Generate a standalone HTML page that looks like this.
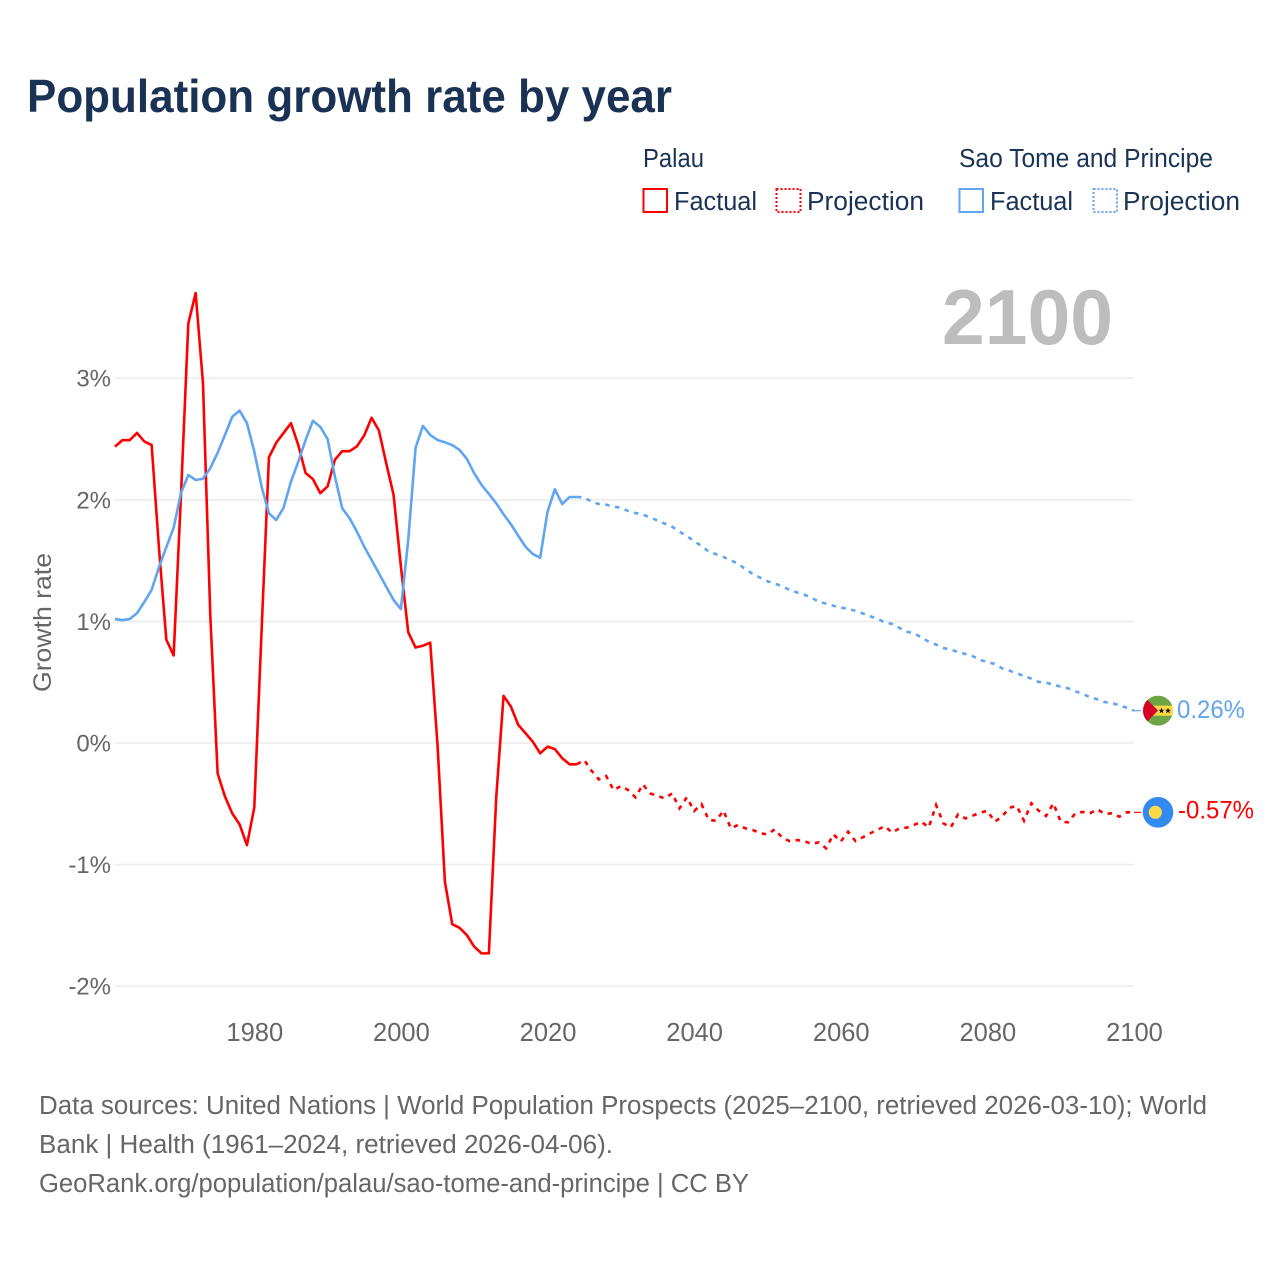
<!DOCTYPE html>
<html lang="en">
<head>
<meta charset="utf-8">
<title>Population growth rate by year</title>
<style>
  html, body { margin: 0; padding: 0; background: #fff; }
  svg { display: block; }
  text { font-family: "Liberation Sans", sans-serif; }
</style>
</head>
<body>
<svg id="chart" xmlns="http://www.w3.org/2000/svg" width="1280" height="1280" viewBox="0 0 1280 1280">
  <rect x="0" y="0" width="1280" height="1280" fill="#ffffff"/>
  <text x="27" y="112" font-size="46" font-weight="700" fill="#1a3355" textLength="645" lengthAdjust="spacingAndGlyphs">Population growth rate by year</text>

  <g>
    <text x="643" y="167" font-size="25.5" fill="#1a3355" textLength="61" lengthAdjust="spacingAndGlyphs">Palau</text>
    <text x="959" y="167" font-size="25.5" fill="#1a3355" textLength="254" lengthAdjust="spacingAndGlyphs">Sao Tome and Principe</text>
    <g>
      <rect x="643.5" y="189" width="23.5" height="23" fill="none" stroke="#ff0000" stroke-width="2"/>
      <text x="674" y="210" font-size="25.5" fill="#1a3355" textLength="83" lengthAdjust="spacingAndGlyphs">Factual</text>
    </g>
    <g>
      <rect x="776.5" y="189" width="24" height="23" fill="none" stroke="#ff0000" stroke-width="2" stroke-dasharray="2 2"/>
      <text x="807" y="210" font-size="25.5" fill="#1a3355" textLength="117" lengthAdjust="spacingAndGlyphs">Projection</text>
    </g>
    <g>
      <rect x="959.5" y="189" width="23.5" height="23" fill="none" stroke="#60a5ef" stroke-width="2"/>
      <text x="990" y="210" font-size="25.5" fill="#1a3355" textLength="83" lengthAdjust="spacingAndGlyphs">Factual</text>
    </g>
    <g>
      <rect x="1093.5" y="189" width="23.5" height="23" fill="none" stroke="#60a5ef" stroke-width="2" stroke-dasharray="2 2"/>
      <text x="1123" y="210" font-size="25.5" fill="#1a3355" textLength="117" lengthAdjust="spacingAndGlyphs">Projection</text>
    </g>
  </g>

  <text x="942" y="344" font-size="78" font-weight="700" fill="#bdbdbd" textLength="171" lengthAdjust="spacingAndGlyphs">2100</text>
  <text transform="translate(51,692) rotate(-90)" x="0" y="0" font-size="25" fill="#666666" textLength="139" lengthAdjust="spacingAndGlyphs">Growth rate</text>

  <g id="grid"></g>
  <g id="yticks"></g>
  <g id="xticks"></g>
  <g id="series"></g>

  <defs>
    <clipPath id="stp-clip"><circle cx="0" cy="0" r="15"/></clipPath>
  </defs>
  <g id="badge-sao">
    <g clip-path="url(#stp-clip)">
      <rect x="-15" y="-15" width="30" height="30" fill="#6da544"/>
      <rect x="-15" y="-5" width="30" height="10" fill="#ffda44"/>
      <polygon points="-15,-15 0,0 -15,15" fill="#d80027"/>
      <polygon points="3.5,-3 4.3,-0.9 6.5,-0.9 4.8,0.4 5.4,2.6 3.5,1.3 1.6,2.6 2.2,0.4 0.5,-0.9 2.7,-0.9" fill="#111111"/>
      <polygon points="10,-3 10.8,-0.9 13,-0.9 11.3,0.4 11.9,2.6 10,1.3 8.1,2.6 8.7,0.4 7,-0.9 9.2,-0.9" fill="#111111"/>
    </g>
  </g>
  <g id="badge-palau">
    <circle cx="0" cy="0" r="15.3" fill="#338af3"/>
    <circle cx="-2.7" cy="0" r="6.6" fill="#ffda44"/>
  </g>
  <text id="label-sao" x="1177" font-size="25" fill="#60a5ef" textLength="68" lengthAdjust="spacingAndGlyphs"></text>
  <text id="label-palau" x="1178" font-size="25" fill="#ff0000" textLength="76" lengthAdjust="spacingAndGlyphs"></text>

  <g>
    <text x="39" y="1114" font-size="25.5" fill="#666666" textLength="1168" lengthAdjust="spacingAndGlyphs">Data sources: United Nations | World Population Prospects (2025–2100, retrieved 2026-03-10); World</text>
    <text x="39" y="1153" font-size="25.5" fill="#666666" textLength="574" lengthAdjust="spacingAndGlyphs">Bank | Health (1961–2024, retrieved 2026-04-06).</text>
    <text x="39" y="1192" font-size="25.5" fill="#666666" textLength="710" lengthAdjust="spacingAndGlyphs">GeoRank.org/population/palau/sao-tome-and-principe | CC BY</text>
  </g>
</svg>

<script>
// Chart data: growth rate in percent per year
const factualStartYear = 1961;
const projectionStartYear = 2024;
const xTickYears = [1980, 2000, 2020, 2040, 2060, 2080, 2100];
const yTickValues = [3, 2, 1, 0, -1, -2];
const yTickLabels = ['3%', '2%', '1%', '0%', '-1%', '-2%'];
const endValueLabels = ['-0.57%', '0.26%'];

const palauFactual = [
  2.437,2.49,2.49,2.55,2.48,2.45,1.6,0.85,0.72,2.04,
  3.45,3.70,2.96,1.05,-0.25,-0.44,-0.58,-0.67,-0.84,-0.53,
  0.93,2.35,2.47,2.55,2.63,2.45,2.22,2.17,2.055,2.11,
  2.33,2.40,2.40,2.44,2.53,2.675,2.57,2.30,2.04,1.45,
  0.91,0.785,0.80,0.825,-0.02,-1.14,-1.49,-1.52,-1.58,-1.675,
  -1.73,-1.73,-0.45,0.387,0.30,0.15,0.08,0.01,-0.085,-0.03,
  -0.05,-0.125,-0.175,-0.175
];
const palauProjection = [
  -0.175,
  -0.14,-0.228,-0.299,-0.271,-0.387,-0.354,-0.387,-0.447,-0.34,-0.414,
  -0.436,-0.455,-0.414,-0.537,-0.447,-0.559,-0.502,-0.633,-0.639,-0.556,
  -0.702,-0.674,-0.702,-0.715,-0.743,-0.751,-0.71,-0.778,-0.806,-0.798,
  -0.806,-0.83,-0.817,-0.866,-0.751,-0.811,
  -0.729,-0.806,-0.776,-0.743,-0.715,-0.683,-0.737,-0.702,-0.696,-0.674,
  -0.647,-0.694,-0.51,-0.661,-0.694,-0.587,-0.62,-0.598,-0.573,-0.557,
  -0.647,-0.606,-0.532,-0.518,-0.639,-0.496,-0.557,-0.60,-0.496,-0.647,
  -0.652,-0.578,-0.567,-0.578,-0.545,-0.584,-0.578,-0.606,-0.57,-0.57
];
const saoFactual = [
  1.02,1.01,1.02,1.067,1.16,1.26,1.447,1.61,1.77,2.056,
  2.204,2.163,2.173,2.26,2.387,2.533,2.683,2.733,2.63,2.396,
  2.108,1.889,1.834,1.935,2.149,2.313,2.492,2.65,2.60,2.50,
  2.19,1.93,1.848,1.738,1.614,1.505,1.396,1.285,1.176,1.102,
  1.67,2.428,2.607,2.533,2.492,2.473,2.45,2.41,2.336,2.218,
  2.122,2.048,1.971,1.881,1.80,1.705,1.614,1.554,1.524,1.902,
  2.086,1.965,2.023,2.023
];
const saoProjection = [
  2.023,
  2.02,1.985,1.965,1.96,1.943,1.935,1.908,1.891,1.88,1.853,
  1.831,1.804,1.779,1.738,1.702,1.661,1.62,1.573,1.552,1.53,
  1.502,1.475,1.428,1.39,1.36,1.33,1.31,1.291,1.258,1.239,
  1.22,1.195,1.162,1.146,1.129,1.113,1.105,1.086,
  1.066,1.042,1.022,0.992,0.979,0.946,0.916,0.902,0.869,0.833,
  0.809,0.781,0.768,0.748,0.732,0.715,0.683,0.666,0.65,0.614,
  0.595,0.573,0.551,0.529,0.502,0.496,0.48,0.463,0.45,0.425,
  0.403,0.378,0.359,0.337,0.329,0.31,0.29,0.266
];

// Axis functions
const plotLeft = 115, plotRight = 1134;
function xScale(year) { return plotLeft + (year - 1961) * (plotRight - plotLeft) / 139; }
function yScale(v) { return 743 - v * 121.6; }

const NS = 'http://www.w3.org/2000/svg';
const RED = '#ff0000', BLUE = '#60a5ef';

function linePath(values, startYear) {
  return values.map(function (v, i) {
    return (i ? 'L' : 'M') + xScale(startYear + i).toFixed(2) + ' ' + yScale(v).toFixed(2);
  }).join(' ');
}

// Gridlines and y ticks
const gridGroup = document.getElementById('grid');
const yTickGroup = document.getElementById('yticks');
yTickValues.forEach(function (v, i) {
  const ln = document.createElementNS(NS, 'line');
  
  
  ln.setAttribute('x1', plotLeft);
  ln.setAttribute('x2', plotRight);
  ln.setAttribute('y1', yScale(v));
  ln.setAttribute('y2', yScale(v));
  ln.setAttribute('stroke', '#ececec');
  ln.setAttribute('stroke-width', '1.6');
  gridGroup.appendChild(ln);

  const t = document.createElementNS(NS, 'text');
  
  
  t.setAttribute('x', 111);
  t.setAttribute('y', yScale(v) + 8.5);
  t.setAttribute('text-anchor', 'end');
  t.setAttribute('font-size', '24');
  t.setAttribute('fill', '#666666');
  t.textContent = yTickLabels[i];
  yTickGroup.appendChild(t);
});

// X ticks
const xTickGroup = document.getElementById('xticks');
xTickYears.forEach(function (yr) {
  const t = document.createElementNS(NS, 'text');
  
  
  t.setAttribute('x', xScale(yr) + 0.5);
  t.setAttribute('y', 1041);
  t.setAttribute('text-anchor', 'middle');
  t.setAttribute('font-size', '25.5');
  t.setAttribute('fill', '#666666');
  t.textContent = String(yr);
  xTickGroup.appendChild(t);
});

// Series lines
const seriesGroup = document.getElementById('series');

const palauProjLine = document.createElementNS(NS, 'path');


palauProjLine.setAttribute('d', linePath(palauProjection, projectionStartYear));
palauProjLine.setAttribute('fill', 'none');
palauProjLine.setAttribute('stroke', RED);
palauProjLine.setAttribute('stroke-width', '2.6');
palauProjLine.setAttribute('stroke-dasharray', '4.5 5.5');
seriesGroup.appendChild(palauProjLine);

const palauFactLine = document.createElementNS(NS, 'path');


palauFactLine.setAttribute('d', linePath(palauFactual, factualStartYear));
palauFactLine.setAttribute('fill', 'none');
palauFactLine.setAttribute('stroke', RED);
palauFactLine.setAttribute('stroke-width', '2.6');
palauFactLine.setAttribute('stroke-linejoin', 'round');
seriesGroup.appendChild(palauFactLine);

const saoProjLine = document.createElementNS(NS, 'path');


saoProjLine.setAttribute('d', linePath(saoProjection, projectionStartYear));
saoProjLine.setAttribute('fill', 'none');
saoProjLine.setAttribute('stroke', BLUE);
saoProjLine.setAttribute('stroke-width', '2.6');
saoProjLine.setAttribute('stroke-dasharray', '4.5 5.5');
seriesGroup.appendChild(saoProjLine);

const saoFactLine = document.createElementNS(NS, 'path');


saoFactLine.setAttribute('d', linePath(saoFactual, factualStartYear));
saoFactLine.setAttribute('fill', 'none');
saoFactLine.setAttribute('stroke', BLUE);
saoFactLine.setAttribute('stroke-width', '2.6');
saoFactLine.setAttribute('stroke-linejoin', 'round');
seriesGroup.appendChild(saoFactLine);

// End connectors, flags and printed values follow the last projection value
const palauEndY = yScale(palauProjection[palauProjection.length - 1]);
const saoEndY = yScale(saoProjection[saoProjection.length - 1]);

const palauConnector = document.createElementNS(NS, 'line');


palauConnector.setAttribute('x1', plotRight);
palauConnector.setAttribute('x2', 1141);
palauConnector.setAttribute('y1', palauEndY);
palauConnector.setAttribute('y2', palauEndY);
palauConnector.setAttribute('stroke', RED);
palauConnector.setAttribute('stroke-width', '1.2');
seriesGroup.appendChild(palauConnector);

const saoConnector = document.createElementNS(NS, 'line');


saoConnector.setAttribute('x1', plotRight);
saoConnector.setAttribute('x2', 1141);
saoConnector.setAttribute('y1', saoEndY);
saoConnector.setAttribute('y2', saoEndY);
saoConnector.setAttribute('stroke', BLUE);
saoConnector.setAttribute('stroke-width', '1.2');
seriesGroup.appendChild(saoConnector);

document.getElementById('badge-palau').setAttribute('transform', 'translate(1158,' + palauEndY + ')');
document.getElementById('badge-sao').setAttribute('transform', 'translate(1158,' + saoEndY + ')');

const palauLabel = document.getElementById('label-palau');
palauLabel.setAttribute('y', palauEndY + 6);
palauLabel.textContent = endValueLabels[0];
const saoLabel = document.getElementById('label-sao');
saoLabel.setAttribute('y', saoEndY + 7.5);
saoLabel.textContent = endValueLabels[1];
</script>
</body>
</html>
